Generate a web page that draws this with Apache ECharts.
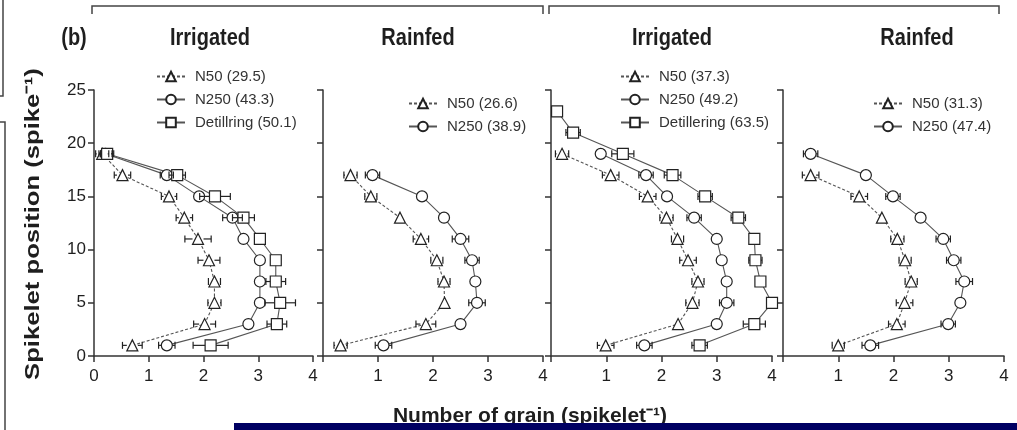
<!DOCTYPE html>
<html>
<head>
<meta charset="utf-8">
<script src="https://cdn.jsdelivr.net/npm/echarts@6/dist/echarts.min.js"></script>
<style>
html,body{margin:0;padding:0;background:#fff;}
#chart{width:1017px;height:430px;}
</style>
</head>
<body>
<div id="chart"></div>
<script>
// ---------- DATA ----------
const panelTitles = ['Irrigated', 'Rainfed', 'Irrigated', 'Rainfed'];
const xTicks = [0, 1, 2, 3, 4];
const yTicks = [0, 5, 10, 15, 20, 25];
const spikeletPos = [1, 3, 5, 7, 9, 11, 13, 15, 17, 19];
const spikeletPos12 = [1, 3, 5, 7, 9, 11, 13, 15, 17, 19, 21, 23];

// Panel 1 (Irrigated)
const p1Names = ['N50 (29.5)', 'N250 (43.3)', 'Detillring (50.1)'];
const p1N50 = [0.70, 2.02, 2.20, 2.20, 2.10, 1.90, 1.65, 1.37, 0.52, 0.15];
const p1N50Err = [0.18, 0.20, 0.12, 0.11, 0.20, 0.24, 0.15, 0.14, 0.15, 0.12];
const p1N250 = [1.33, 2.82, 3.03, 3.03, 3.03, 2.73, 2.53, 1.92, 1.33, 0.21];
const p1N250Err = [0.15, 0.05, 0.06, 0.05, 0.05, 0.04, 0.18, 0.05, 0.12, 0.12];
const p1Det = [2.13, 3.34, 3.40, 3.32, 3.32, 3.03, 2.73, 2.21, 1.52, 0.24];
const p1DetErr = [0.32, 0.18, 0.28, 0.18, 0.05, 0.05, 0.20, 0.28, 0.15, 0.12];

// Panel 2 (Rainfed)
const p2Names = ['N50 (26.6)', 'N250 (38.9)'];
const p2N50 = [0.32, 1.87, 2.21, 2.20, 2.07, 1.78, 1.40, 0.87, 0.50];
const p2N50Err = [0.12, 0.18, 0.04, 0.11, 0.11, 0.14, 0, 0.11, 0.12];
const p2N250 = [1.10, 2.50, 2.80, 2.77, 2.71, 2.50, 2.20, 1.80, 0.90];
const p2N250Err = [0.15, 0.04, 0.15, 0.04, 0.13, 0.15, 0, 0, 0.13];

// Panel 3 (Irrigated)
const p3Names = ['N50 (37.3)', 'N250 (49.2)', 'Detillering (63.5)'];
const p3N50 = [0.99, 2.30, 2.56, 2.66, 2.48, 2.29, 2.09, 1.75, 1.08, 0.20];
const p3N50Err = [0.15, 0, 0.12, 0.11, 0.15, 0.11, 0.12, 0.15, 0.15, 0.12];
const p3N250 = [1.69, 3.00, 3.18, 3.18, 3.09, 3.00, 2.59, 2.10, 1.72, 0.90];
const p3N250Err = [0.14, 0, 0.13, 0, 0.04, 0, 0.13, 0, 0.13, 0];
const p3Det = [2.69, 3.68, 4.00, 3.79, 3.70, 3.68, 3.39, 2.79, 2.20, 1.30, 0.40, 0.11];
const p3DetErr = [0.14, 0.20, 0, 0, 0.12, 0, 0.13, 0.13, 0.15, 0.20, 0.13, 0.03];

// Panel 4 (Rainfed)
const p4Names = ['N50 (31.3)', 'N250 (47.4)'];
const p4N50 = [1.00, 2.06, 2.20, 2.32, 2.21, 2.07, 1.79, 1.38, 0.50];
const p4N50Err = [0.11, 0.15, 0.15, 0.11, 0.11, 0.12, 0, 0.15, 0.15];
const p4N250 = [1.58, 2.99, 3.21, 3.28, 3.09, 2.90, 2.49, 1.99, 1.50, 0.50];
const p4N250Err = [0.15, 0.13, 0, 0.15, 0.13, 0.13, 0, 0.13, 0, 0.13];

// ---------- STYLE / BUILD ----------
const FONT = "'Liberation Sans', Arial, sans-serif";
const INK = '#1e1e1e';
const SYM = 11;
const gridBoxes = [
  {left: 94, top: 90, width: 219, height: 266},
  {left: 323, top: 90, width: 220, height: 266},
  {left: 551, top: 90, width: 221, height: 266},
  {left: 783, top: 90, width: 221, height: 266}
];

function lineSeries(name, gi, xs, ys, symbol, dashed) {
  return {
    type: 'line', name: name, xAxisIndex: gi, yAxisIndex: gi,
    data: xs.map((x, i) => [x, ys[i]]),
    symbol: symbol, symbolSize: SYM,
    showSymbol: true, clip: false, z: 4,
    lineStyle: {color: '#555', width: 1.1, type: dashed ? [3, 2] : 'solid'},
    itemStyle: {color: '#fff', borderColor: '#222', borderWidth: 1.2},
    emphasis: {disabled: true}, animation: false
  };
}
// Horizontal error bars; the part hidden behind a marker is not drawn.
function errSeries(gi, xs, ys, errs) {
  return {
    type: 'custom', xAxisIndex: gi, yAxisIndex: gi, z: 5, silent: true, clip: false,
    data: xs.map((x, i) => [x, ys[i], errs[i]]),
    encode: {x: 0, y: 1},
    renderItem: function (params, api) {
      const x = api.value(0), y = api.value(1), e = api.value(2);
      if (!e) return null;
      const c = api.coord([x, y]);
      const a = api.coord([x - e, y]);
      const b = api.coord([x + e, y]);
      const h = 3.5, r = SYM / 2;
      if (c[0] - a[0] <= r) return null;
      const st = {stroke: '#222', lineWidth: 1.2};
      return {type: 'group', children: [
        {type: 'line', shape: {x1: a[0], y1: a[1] - h, x2: a[0], y2: a[1] + h}, style: st},
        {type: 'line', shape: {x1: b[0], y1: b[1] - h, x2: b[0], y2: b[1] + h}, style: st},
        {type: 'line', shape: {x1: a[0], y1: a[1], x2: c[0] - r, y2: c[1]}, style: st},
        {type: 'line', shape: {x1: c[0] + r, y1: c[1], x2: b[0], y2: b[1]}, style: st}
      ]};
    },
    animation: false
  };
}

const series = [
  errSeries(0, p1N50, spikeletPos, p1N50Err),
  errSeries(0, p1N250, spikeletPos, p1N250Err),
  errSeries(0, p1Det, spikeletPos, p1DetErr),
  lineSeries(p1Names[0], 0, p1N50, spikeletPos, 'triangle', true),
  lineSeries(p1Names[1], 0, p1N250, spikeletPos, 'circle', false),
  lineSeries(p1Names[2], 0, p1Det, spikeletPos, 'rect', false),

  errSeries(1, p2N50, spikeletPos, p2N50Err),
  errSeries(1, p2N250, spikeletPos, p2N250Err),
  lineSeries(p2Names[0], 1, p2N50, spikeletPos, 'triangle', true),
  lineSeries(p2Names[1], 1, p2N250, spikeletPos, 'circle', false),

  errSeries(2, p3N50, spikeletPos, p3N50Err),
  errSeries(2, p3N250, spikeletPos, p3N250Err),
  errSeries(2, p3Det, spikeletPos12, p3DetErr),
  lineSeries(p3Names[0], 2, p3N50, spikeletPos, 'triangle', true),
  lineSeries(p3Names[1], 2, p3N250, spikeletPos, 'circle', false),
  lineSeries(p3Names[2], 2, p3Det, spikeletPos12, 'rect', false),

  errSeries(3, p4N50, spikeletPos, p4N50Err),
  errSeries(3, p4N250, spikeletPos, p4N250Err),
  lineSeries(p4Names[0], 3, p4N50, spikeletPos, 'triangle', true),
  lineSeries(p4Names[1], 3, p4N250, spikeletPos, 'circle', false)
];

const axisLine = {show: true, onZero: false, lineStyle: {color: '#333', width: 1.5}};
const axisTick = {show: true, inside: false, length: 6, lineStyle: {color: '#333', width: 1.5}};

const xAxis = gridBoxes.map((g, i) => ({
  type: 'value', gridIndex: i, min: xTicks[0], max: xTicks[xTicks.length - 1], interval: 1,
  axisLine: axisLine, axisTick: axisTick, splitLine: {show: false},
  axisLabel: {fontSize: 17, color: INK, fontFamily: FONT, margin: 12,
    formatter: v => (i > 0 && v === 0) ? '' : String(v)}
}));
const yAxis = gridBoxes.map((g, i) => ({
  type: 'value', gridIndex: i, min: yTicks[0], max: yTicks[yTicks.length - 1], interval: 5,
  axisLine: axisLine, axisTick: axisTick, splitLine: {show: false},
  axisLabel: {show: i === 0, fontSize: 17, color: INK, fontFamily: FONT, margin: 8}
}));

function legendAt(names, left, top) {
  return {
    data: names, left: left, top: top, orient: 'vertical',
    itemWidth: 28, itemHeight: 12, itemGap: 8, selectedMode: false,
    textStyle: {fontSize: 15, color: '#333', fontFamily: FONT, padding: [0, 0, 0, 5]}
  };
}

const legend = [
  legendAt(p1Names, 151, 64),
  legendAt(p2Names, 403, 91),
  legendAt(p3Names, 615, 64),
  legendAt(p4Names, 868, 91)
];

const titleCenters = [210, 418, 672, 917];
const graphic = [
  {type: 'polyline', shape: {points: [[92, 14], [92, 6], [543, 6], [543, 14]]}, style: {stroke: '#444', lineWidth: 1.5, fill: null}},
  {type: 'polyline', shape: {points: [[549, 14], [549, 6], [999, 6], [999, 14]]}, style: {stroke: '#444', lineWidth: 1.5, fill: null}},
  {type: 'polyline', shape: {points: [[3, 0], [3, 96], [0, 96]]}, style: {stroke: '#444', lineWidth: 1.5, fill: null}},
  {type: 'polyline', shape: {points: [[0, 122], [5, 122], [5, 430]]}, style: {stroke: '#444', lineWidth: 1.5, fill: null}},
  {type: 'text', x: 74, y: 38, scaleY: 1.18, style: {text: '(b)', font: 'bold 20px ' + FONT, fill: INK, align: 'center', verticalAlign: 'middle'}},
  ...panelTitles.map((t, i) => ({type: 'text', x: titleCenters[i], y: 38, scaleY: 1.18,
    style: {text: t, font: 'bold 20px ' + FONT, fill: INK, align: 'center', verticalAlign: 'middle'}})),
  {type: 'text', x: 33, y: 224, rotation: Math.PI / 2, scaleX: 1.22,
    style: {text: 'Spikelet position (spike\u207B\u00B9)', font: 'bold 21px ' + FONT, fill: INK, align: 'center', verticalAlign: 'middle'}},
  {type: 'text', x: 530, y: 416,
    style: {text: 'Number of grain (spikelet\u207B\u00B9)', font: 'bold 21px ' + FONT, fill: INK, align: 'center', verticalAlign: 'middle'}},
  {type: 'rect', shape: {x: 234, y: 423, width: 783, height: 7}, style: {fill: '#000062'}, z: 100}
];

const chart = echarts.init(document.getElementById('chart'), null, {renderer: 'canvas'});
chart.setOption({
  animation: false,
  backgroundColor: '#fff',
  grid: gridBoxes,
  xAxis: xAxis,
  yAxis: yAxis,
  legend: legend,
  series: series,
  graphic: graphic
});
</script>
</body>
</html>
